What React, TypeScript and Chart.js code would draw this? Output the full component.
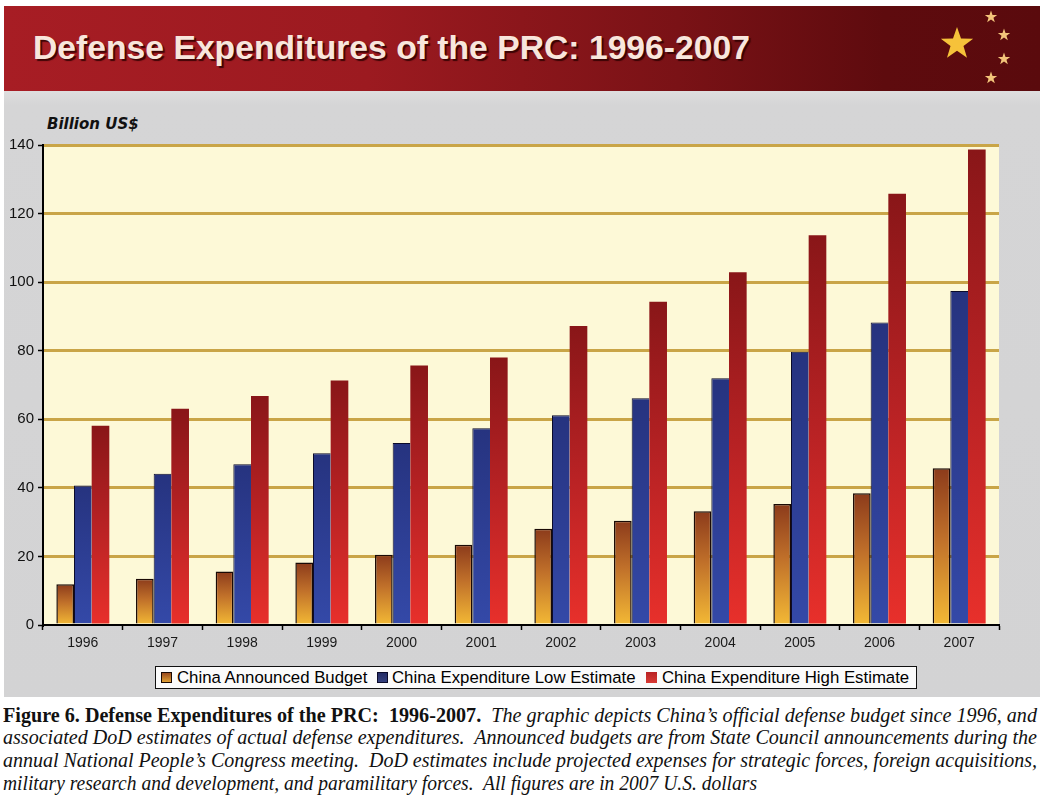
import React, { useEffect, useLayoutEffect, useRef } from "react";
import { Chart, registerables } from "chart.js";

Chart.register(...registerables);

// ---------- DATA ----------
const years = ["1996", "1997", "1998", "1999", "2000", "2001", "2002", "2003", "2004", "2005", "2006", "2007"];
const announcedBudget = [11.9, 13.5, 15.6, 18.2, 20.5, 23.4, 28.1, 30.4, 33.2, 35.3, 38.4, 45.7];
const lowEstimate = [40.7, 44.1, 46.9, 50.1, 53.1, 57.4, 61.2, 66.1, 72.0, 79.7, 88.2, 97.4];
const highEstimate = [58.1, 63.1, 66.8, 71.3, 75.7, 78.0, 87.2, 94.3, 102.9, 113.7, 125.8, 138.7];
const seriesNames = [
  "China Announced Budget",
  "China Expenditure Low Estimate",
  "China Expenditure High Estimate",
];
const yMin = 0;
const yMax = 140;
const yStep = 20;

const titleText = "Defense Expenditures of the PRC: 1996-2007";
const yAxisTitle = "Billion US$";
const captionBold = "Figure 6. Defense Expenditures of the PRC:  1996-2007.";
const captionLines = [
  "  The graphic depicts China\u2019s official defense budget since 1996, and",
  "associated DoD estimates of actual defense expenditures.  Announced budgets are from State Council announcements during the",
  "annual National People\u2019s Congress meeting.  DoD estimates include projected expenses for strategic forces, foreign acquisitions,",
  "military research and development, and paramilitary forces.  All figures are in 2007 U.S. dollars",
];

// ---------- helpers ----------
function FitText(props: { width: number; style: React.CSSProperties; children: React.ReactNode }) {
  const ref = useRef<HTMLDivElement>(null);
  useLayoutEffect(() => {
    const fit = () => {
      const el = ref.current;
      if (!el) return;
      el.style.transform = "none";
      const w = el.getBoundingClientRect().width;
      if (w > 0) el.style.transform = `scaleX(${props.width / w})`;
    };
    fit();
    if ((document as any).fonts && (document as any).fonts.ready) {
      (document as any).fonts.ready.then(fit);
    }
  });
  return (
    <div
      ref={ref}
      style={{ position: "absolute", whiteSpace: "pre", transformOrigin: "0 0", ...props.style }}
    >
      {props.children}
    </div>
  );
}

function starPoints(cx: number, cy: number, R: number) {
  const r = R * 0.4;
  const pts: string[] = [];
  for (let i = 0; i < 10; i++) {
    const rad = i % 2 === 0 ? R : r;
    const a = -Math.PI / 2 + (i * Math.PI) / 5;
    pts.push(`${(cx + rad * Math.cos(a)).toFixed(2)},${(cy + rad * Math.sin(a)).toFixed(2)}`);
  }
  return pts.join(" ");
}

function barGradient(ctx: any, stops: [number, string][], fallback: string) {
  const chart = ctx.chart;
  const scales = chart.scales;
  if (!chart.chartArea || ctx.type !== "data" || !scales || !scales.y) return fallback;
  const yTop = scales.y.getPixelForValue(ctx.raw);
  const yBot = scales.y.getPixelForValue(0);
  if (!isFinite(yTop) || !isFinite(yBot) || yTop === yBot) return fallback;
  const g = chart.ctx.createLinearGradient(0, yTop, 0, yBot);
  stops.forEach(([o, c]) => g.addColorStop(o, c));
  return g;
}

const plotBg = {
  id: "plotBg",
  beforeDraw(chart: any) {
    const { ctx, chartArea } = chart;
    if (!chartArea) return;
    ctx.save();
    ctx.fillStyle = "#fdf9d7";
    ctx.fillRect(chartArea.left, chartArea.top, chartArea.right - chartArea.left, chartArea.bottom - chartArea.top);
    ctx.restore();
  },
};

// ---------- App ----------
export default function App() {
  const canvasRef = useRef<HTMLCanvasElement>(null);

  useEffect(() => {
    const canvas = canvasRef.current;
    if (!canvas) return;
    const chart = new Chart(canvas, {
      type: "bar",
      data: {
        labels: years,
        datasets: [
          {
            label: seriesNames[0],
            data: announcedBudget,
            backgroundColor: (ctx: any) =>
              barGradient(ctx, [[0, "#8c3b1b"], [0.45, "#c0702a"], [1, "#f3b935"]], "#c0702a"),
            borderColor: "#1a0a05",
            borderWidth: 1.5,
          },
          {
            label: seriesNames[1],
            data: lowEstimate,
            backgroundColor: (ctx: any) =>
              barGradient(ctx, [[0, "#26337f"], [1, "#3449a8"]], "#2d3f96"),
            borderColor: "#0b0b2a",
            borderWidth: { top: 1, left: 1, right: 0, bottom: 0 } as any,
          },
          {
            label: seriesNames[2],
            data: highEstimate,
            backgroundColor: (ctx: any) =>
              barGradient(ctx, [[0, "#891618"], [0.5, "#b82224"], [1, "#e8302b"]], "#c02626"),
            borderWidth: 0,
          },
        ],
      },
      options: {
        animation: false,
        responsive: false,
        maintainAspectRatio: false,
        devicePixelRatio: 1,
        layout: { padding: { top: 54, right: 41, left: 0, bottom: 0 } },
        datasets: {
          bar: { categoryPercentage: 0.665, barPercentage: 1.0 },
        },
        plugins: {
          legend: { display: false },
          tooltip: { enabled: false },
          title: { display: false },
        },
        scales: {
          x: {
            offset: true,
            grid: {
              display: true,
              offset: true,
              drawOnChartArea: false,
              drawTicks: true,
              tickLength: 5,
              tickColor: "#000",
              tickWidth: 1.5,
            },
            border: { display: true, color: "#000", width: 2 },
            ticks: {
              color: "#1a1a1a",
              padding: 5,
              font: { family: "'Liberation Sans', Arial, sans-serif", size: 14 },
              maxRotation: 0,
              autoSkip: false,
            },
            afterFit: (s: any) => {
              s.height = 35;
            },
          },
          y: {
            min: yMin,
            max: yMax,
            ticks: {
              stepSize: yStep,
              color: "#111",
              padding: 4,
              font: { family: "'Liberation Sans', Arial, sans-serif", size: 15 },
            },
            grid: {
              color: (ctx: any) => (ctx.tick && ctx.tick.value === 0 ? "rgba(0,0,0,0)" : "#c9a547"),
              lineWidth: 3,
              drawTicks: true,
              tickLength: 5,
              tickColor: "#000",
              tickWidth: 1.5,
            },
            border: { display: true, color: "#000", width: 2 },
            afterFit: (s: any) => {
              s.width = 43;
            },
          },
        },
      },
      plugins: [plotBg],
    } as any);
    return () => chart.destroy();
  }, []);

  const legendSwatches = [
    { left: 161, bg: "linear-gradient(180deg,#9a4a1e,#e0a035)", border: "1px solid #1a0a05" },
    { left: 377, bg: "linear-gradient(180deg,#232c66,#34407e)", border: "1px solid #0b0b2a" },
    { left: 646, bg: "linear-gradient(180deg,#b82224,#d83a34)", border: "none" },
  ];
  const legendTextLeft = [177, 392, 662];

  return (
    <div
      style={{
        position: "fixed",
        left: 0,
        top: 0,
        width: 1040,
        height: 808,
        background: "#ffffff",
        overflow: "hidden",
        fontFamily: "'Liberation Sans', Arial, sans-serif",
      }}
    >
      {/* gray panel */}
      <div
        style={{
          position: "absolute",
          left: 4,
          top: 91,
          width: 1036,
          height: 606,
          background: "linear-gradient(180deg,#dedede 0px,#d5d5d6 14px,#d3d3d4 100%)",
        }}
      />
      {/* title bar */}
      <div
        style={{
          position: "absolute",
          left: 4,
          top: 6,
          width: 1036,
          height: 85,
          background: "linear-gradient(90deg,#a71d24 0%,#9c1a20 35%,#7a1216 65%,#5e0b0e 85%,#5a0a0d 100%)",
        }}
      />
      <FitText
        width={717}
        style={{
          left: 33,
          top: 31,
          fontSize: 33,
          lineHeight: "33px",
          fontWeight: "bold",
          color: "#f8e6dc",
          textShadow: "2px 2px 1px rgba(45,0,0,0.85)",
        }}
      >
        {titleText}
      </FitText>
      <svg style={{ position: "absolute", left: 0, top: 0 }} width={1040} height={95}>
        <polygon points={starPoints(957, 44, 17)} fill="#f6c23a" />
        <polygon points={starPoints(991, 17, 6.5)} fill="#f3c47a" />
        <polygon points={starPoints(1004, 35, 6.5)} fill="#f3c47a" />
        <polygon points={starPoints(1004, 59, 6.5)} fill="#f3c47a" />
        <polygon points={starPoints(991, 78, 6.5)} fill="#f3c47a" />
      </svg>

      {/* y-axis title */}
      <div
        style={{
          position: "absolute",
          left: 47,
          top: 115,
          fontFamily: "'DejaVu Sans', Verdana, sans-serif",
          fontWeight: "bold",
          fontStyle: "italic",
          fontSize: 15,
          lineHeight: "18px",
          color: "#111",
          whiteSpace: "nowrap",
        }}
      >
        {yAxisTitle}
      </div>

      {/* chart */}
      <canvas
        ref={canvasRef}
        width={1040}
        height={569}
        style={{ position: "absolute", left: 0, top: 91, width: 1040, height: 569 }}
      />

      {/* legend */}
      <div
        style={{
          position: "absolute",
          left: 155,
          top: 666,
          width: 760,
          height: 21,
          border: "1.5px solid #111",
          background: "#fbfbfb",
        }}
      />
      {legendSwatches.map((s, i) => (
        <div
          key={"sw" + i}
          style={{
            position: "absolute",
            left: s.left,
            top: 672,
            width: 11,
            height: 11,
            background: s.bg,
            border: s.border,
            boxSizing: "border-box",
          }}
        />
      ))}
      {seriesNames.map((n, i) => (
        <div
          key={"lt" + i}
          style={{
            position: "absolute",
            left: legendTextLeft[i],
            top: 667,
            fontSize: 16.8,
            lineHeight: "22px",
            color: "#000",
            whiteSpace: "nowrap",
          }}
        >
          {n}
        </div>
      ))}

      {/* caption */}
      <FitText
        width={1034}
        style={{ left: 3, top: 703.5, fontFamily: "'Liberation Serif', 'Times New Roman', serif", fontSize: 20.5, lineHeight: "22.7px", color: "#111" }}
      >
        <b>{captionBold}</b>
        <i>{captionLines[0]}</i>
      </FitText>
      {captionLines.slice(1).map((line, i) => (
        <FitText
          key={"cap" + i}
          width={i === 2 ? 754 : 1034}
          style={{
            left: 3,
            top: 703.5 + (i + 1) * 22.7,
            fontFamily: "'Liberation Serif', 'Times New Roman', serif",
            fontStyle: "italic",
            fontSize: 20.5,
            lineHeight: "22.7px",
            color: "#111",
          }}
        >
          {line}
        </FitText>
      ))}
    </div>
  );
}
